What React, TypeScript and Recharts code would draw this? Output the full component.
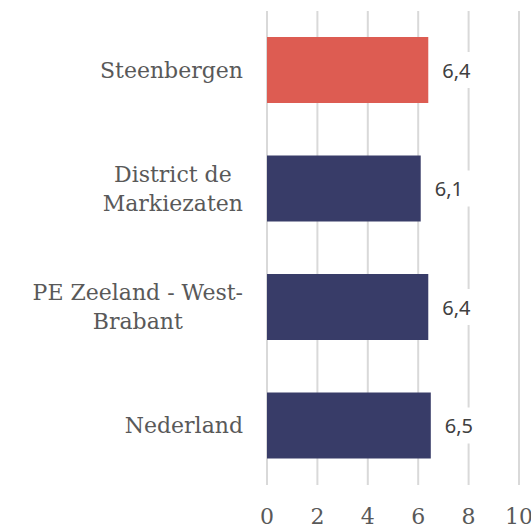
import { Bar, BarChart, CartesianGrid, Cell, LabelList, XAxis, YAxis } from 'recharts'

const categories = ['Steenbergen', 'District de\nMarkiezaten', 'PE Zeeland - West-\nBrabant', 'Nederland']
const scores = [6.4, 6.1, 6.4, 6.5]
const xTicks = [0, 2, 4, 6, 8, 10]
const highlighted = 'Steenbergen'

const data = categories.map((name, i) => ({ name, score: scores[i] }))

const SERIF = '"DejaVu Serif", serif'
const SANS = '"Noto Sans", sans-serif'
const CAT_SIZE = 22
const VAL_SIZE = 20

let ctx: CanvasRenderingContext2D | null = null
function textWidth(text: string, font: string) {
  if (!ctx) ctx = document.createElement('canvas').getContext('2d')
  if (!ctx) return text.length * 10
  ctx.font = font
  return ctx.measureText(text).width
}

function CategoryTick(props: any) {
  const { x, y, payload } = props
  const lines = String(payload.value).split('\n')
  const widest = Math.max(...lines.map((l) => textWidth(l, `${CAT_SIZE}px ${SERIF}`)))
  const cx = x - widest / 2
  const lh = 29
  const top = y - ((lines.length - 1) * lh) / 2
  return (
    <text fontFamily={SERIF} fontSize={CAT_SIZE} fill="#595959" textAnchor="middle">
      {lines.map((l, i) => (
        <tspan key={i} x={cx} y={top + i * lh} dominantBaseline="central">
          {l}
        </tspan>
      ))}
    </text>
  )
}

function ValueTick(props: any) {
  const { x, y, payload } = props
  return (
    <text x={x} y={y + 31} fontFamily={SERIF} fontSize={CAT_SIZE} fill="#595959" textAnchor="middle" dominantBaseline="central">
      {payload.value}
    </text>
  )
}

function ValueLabel(props: any) {
  const { x, y, width, height, value } = props
  const label = Number(value).toFixed(1).replace('.', ',')
  const w = textWidth(label, `${VAL_SIZE}px ${SANS}`)
  const tx = x + width + 14
  const cy = y + height / 2
  return (
    <g>
      <rect x={tx - 7} y={cy - 18} width={w + 14} height={36} fill="#ffffff" />
      <text x={tx} y={cy} fontFamily={SANS} fontSize={VAL_SIZE} fill="#404040" dominantBaseline="central">
        {label}
      </text>
    </g>
  )
}

export default function App() {
  return (
    <div style={{ position: 'absolute', left: 0, top: 0, background: '#fff' }}>
      <BarChart width={531} height={527} data={data} layout="vertical" margin={{ top: 11, right: 12, bottom: 0, left: 0 }}>
        <CartesianGrid horizontal={false} stroke="#d9d9d9" strokeWidth={2} />
        <XAxis
          type="number"
          domain={[0, 10]}
          ticks={xTicks}
          axisLine={false}
          tickLine={false}
          tickSize={0}
          tickMargin={0}
          height={42}
          interval={0}
          tick={<ValueTick />}
        />
        <YAxis
          type="category"
          dataKey="name"
          width={267}
          axisLine={false}
          tickLine={false}
          tickSize={0}
          tickMargin={24}
          interval={0}
          tick={<CategoryTick />}
        />
        <Bar dataKey="score" barSize={66} isAnimationActive={false}>
          {data.map((d) => (
            <Cell key={d.name} fill={d.name === highlighted ? '#dd5c52' : '#383c68'} />
          ))}
          <LabelList dataKey="score" content={<ValueLabel />} />
        </Bar>
      </BarChart>
    </div>
  )
}
